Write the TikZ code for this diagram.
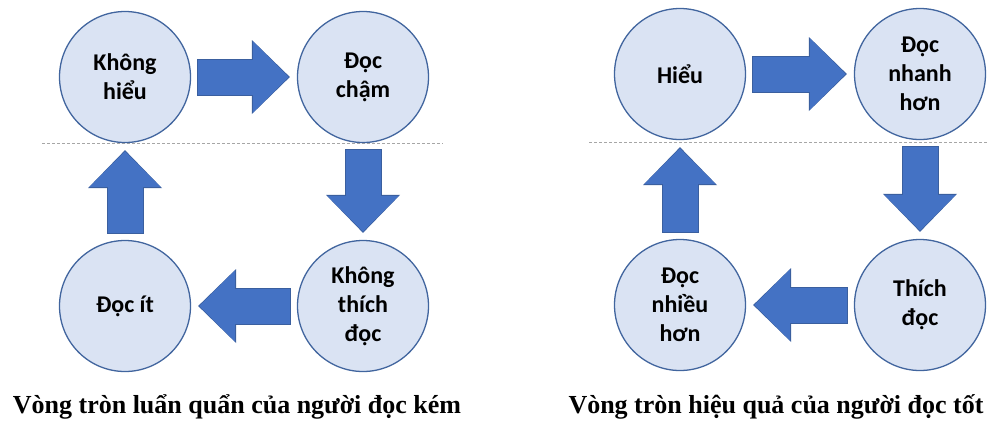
\documentclass[tikz,border=0pt]{standalone}
\usepackage{fontspec}
\setmainfont{Liberation Serif}
\setsansfont{Carlito}
\usepackage{xcolor}
\usepackage{tikz}
\usetikzlibrary{arrows.meta, positioning, calc}

\definecolor{ringfill}{HTML}{DAE3F3}
\definecolor{ringline}{HTML}{41659E}
\definecolor{flowblue}{HTML}{4472C4}
\definecolor{flowedge}{HTML}{3A5F9F}
\definecolor{guide}{HTML}{A6A6A6}

\begin{document}
\begin{tikzpicture}[
    x=1pt, y=-1pt,
    stage/.style={circle, draw=ringline, line width=1.3pt, fill=ringfill, minimum size=131pt, inner sep=0pt,
        align=center, font=\sffamily\bfseries\fontsize{24}{29}\selectfont},
    flowedge/.style={line width=37pt, draw=flowedge, shorten <=6pt, shorten >=7pt,
        -{Triangle[length=38pt, width=74pt, line width=0pt]}},
    flow/.style={line width=35pt, draw=flowblue, shorten <=7pt, shorten >=8.2pt,
        -{Triangle[length=35.5pt, width=71pt, line width=0pt]}},
    guideline/.style={draw=guide, line width=0.8pt, dash pattern=on 3pt off 2pt},
    caption/.style={anchor=base, font=\rmfamily\bfseries\fontsize{26}{30}\selectfont},
]
\useasboundingbox (0,0) rectangle (987,421);

% dashed guides
\draw[guideline] (42,143) -- (443,143);
\draw[guideline] (589,142) -- (987,142);

% vicious circle
\node[stage] (khonghieu) at (125,77) {Không\\hiểu};
\node[stage] (doccham) at (363,77) {Đọc\\chậm};
\node[stage] (khongthich) at (363,306) {Không\\thích\\đọc};
\node[stage] (docit) at (125,306) {Đọc ít};

\foreach \a/\b in {khonghieu/doccham, doccham/khongthich, khongthich/docit, docit/khonghieu}{
    \draw[flowedge] (\a) -- (\b);
    \draw[flow] (\a) -- (\b);
}

\node[caption] (capweak) at (237,413) {Vòng tròn luẩn quẩn của người đọc kém};

% virtuous circle
\node[stage] (hieu) at (680,74) {Hiểu};
\node[stage] (docnhanh) at (920,74) {Đọc\\nhanh\\hơn};
\node[stage] (thichdoc) at (920,305) {Thích\\đọc};
\node[stage] (docnhieu) at (680,305) {Đọc\\nhiều\\hơn};

\foreach \a/\b in {hieu/docnhanh, docnhanh/thichdoc, thichdoc/docnhieu, docnhieu/hieu}{
    \draw[flowedge] (\a) -- (\b);
    \draw[flow] (\a) -- (\b);
}

\node[caption] (capgood) at (776,413) {Vòng tròn hiệu quả của người đọc tốt};

\end{tikzpicture}
\end{document}
